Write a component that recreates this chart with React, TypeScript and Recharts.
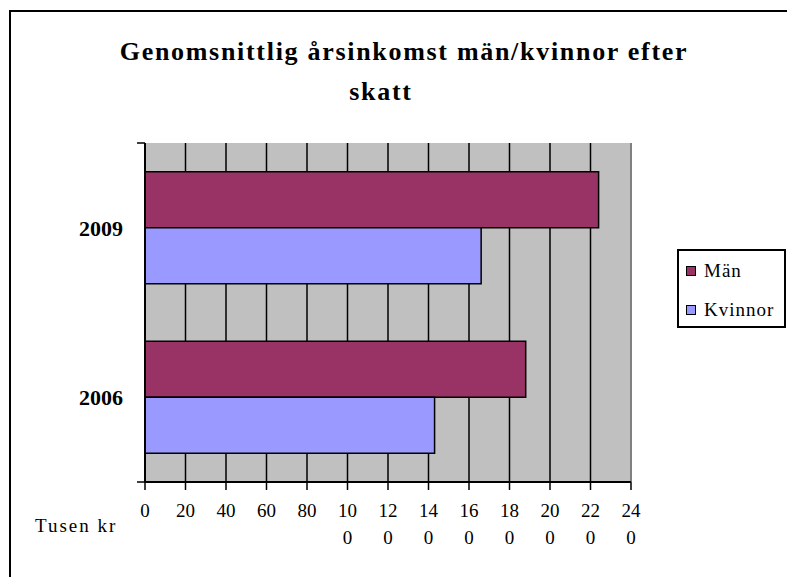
import React from 'react';
import { BarChart, Bar, XAxis, YAxis, CartesianGrid, Legend, ReferenceLine } from 'recharts';

const years = ['2009', '2006'];
const man = [224, 188];
const kvinnor = [166, 143];
const xTicks = [0, 20, 40, 60, 80, 100, 120, 140, 160, 180, 200, 220, 240];
const seriesOrder = ['Män', 'Kvinnor'];

const data = years.map((year, i) => ({ year, 'Män': man[i], Kvinnor: kvinnor[i] }));

const FONT = '"Liberation Serif", "Times New Roman", serif';

const XTick = (props: any) => {
  const { x, y, payload } = props;
  const s = String(payload.value);
  const lines = s.length > 2 ? [s.slice(0, 2), s.slice(2)] : [s];
  return (
    <g>
      {lines.map((l, i) => (
        <text key={i} x={x} y={y + 27 + i * 27} textAnchor="middle" fontFamily={FONT} fontSize={19} fill="#000">
          {l}
        </text>
      ))}
    </g>
  );
};

const YTick = (props: any) => {
  const { x, y, payload } = props;
  return (
    <text x={x} y={y + 8} textAnchor="end" fontFamily={FONT} fontSize={22} fontWeight="bold" fill="#000">
      {payload.value}
    </text>
  );
};

const NoTick = () => <g />;

const LegendBox = (props: any) => {
  const payload = [...(props.payload || [])].sort(
    (a: any, b: any) => seriesOrder.indexOf(a.value) - seriesOrder.indexOf(b.value)
  );
  return (
    <div style={{ border: '2px solid #000', background: '#fff', padding: '9px 0 5px 7px', fontFamily: FONT, fontSize: 19, letterSpacing: 1, color: '#000' }}>
      {payload.map((p: any, i: number) => (
        <div key={i} style={{ display: 'flex', alignItems: 'center', height: 22, marginBottom: i === 0 ? 17 : 0 }}>
          <span style={{ width: 8, height: 8, background: p.color, border: '1.5px solid #000', marginRight: 8, flex: 'none' }} />
          <span style={{ fontFamily: FONT }}>{p.value}</span>
        </div>
      ))}
    </div>
  );
};

export default function App() {
  return (
    <div
      style={{
        position: 'relative',
        marginLeft: 1,
        marginTop: 2,
        width: 776,
        height: 565,
        borderTop: '2px solid #000',
        borderLeft: '2px solid #000',
        overflow: 'hidden',
        background: '#fff',
      }}
    >
      <div
        style={{
          position: 'absolute',
          left: 0,
          width: 776,
          top: 20,
          textAlign: 'center',
          fontFamily: FONT,
          fontWeight: 'bold',
          fontSize: 26,
          lineHeight: '40px',
          letterSpacing: 1.7,
        }}
      >
        <div style={{ marginLeft: 10 }}>Genomsnittlig årsinkomst män/kvinnor efter</div>
        <div style={{ marginRight: 36 }}>skatt</div>
      </div>
      <div style={{ position: 'absolute', left: 24, top: 503, fontFamily: FONT, fontSize: 19, letterSpacing: 2 }}>Tusen kr</div>
      <BarChart
        width={776}
        height={565}
        data={data}
        layout="vertical"
        margin={{ top: 131, right: 47, bottom: 35, left: 74 }}
        barCategoryGap="17%"
        barGap={0}
      >
        <CartesianGrid yAxisId="a" fill="#C0C0C0" horizontal={false} stroke="#000" strokeWidth={1.5} strokeOpacity={1} ticks={xTicks} />
        <XAxis
          type="number"
          domain={[0, 240]}
          ticks={xTicks}
          interval={0}
          height={60}
          tickSize={8}
          tickMargin={0}
          axisLine={{ stroke: '#000', strokeWidth: 2 }}
          tickLine={{ stroke: '#000', strokeWidth: 1.5 }}
          tick={<XTick />}
        />
        <YAxis
          yAxisId="a"
          type="number"
          domain={[0, 2]}
          ticks={[0, 1, 2]}
          interval={0}
          width={8}
          tickSize={8}
          tickMargin={0}
          axisLine={{ stroke: '#000', strokeWidth: 2 }}
          tickLine={{ stroke: '#000', strokeWidth: 1.5 }}
          tick={<NoTick />}
        />
        <YAxis
          yAxisId="b"
          type="category"
          dataKey="year"
          width={52}
          axisLine={false}
          tickLine={false}
          tickSize={0}
          tickMargin={14}
          interval={0}
          tick={<YTick />}
        />
        <ReferenceLine yAxisId="a" x={240} stroke="#808080" strokeWidth={2} />
        <ReferenceLine yAxisId="a" y={2} stroke="#808080" strokeWidth={1} />
        <Legend
          layout="vertical"
          align="right"
          verticalAlign="middle"
          content={<LegendBox />}
          wrapperStyle={{ position: 'absolute', left: 666, top: 237, width: 109, fontFamily: FONT }}
        />
        <Bar yAxisId="b" dataKey="Män" fill="#993366" stroke="#000" strokeWidth={1.5} isAnimationActive={false} />
        <Bar yAxisId="b" dataKey="Kvinnor" fill="#9999FF" stroke="#000" strokeWidth={1.5} isAnimationActive={false} />
      </BarChart>
    </div>
  );
}
